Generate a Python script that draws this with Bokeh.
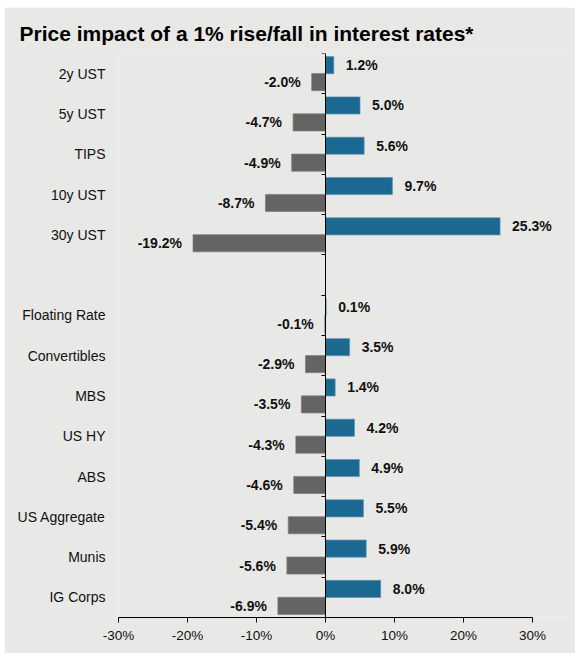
from bokeh.plotting import figure
from bokeh.models import (ColumnDataSource, LabelSet, LinearAxis, FixedTicker,
                          PrintfTickFormatter, Range1d)
from bokeh.core.properties import value
from bokeh.embed import file_html
from bokeh.resources import INLINE

# price change (%) for a 1% fall / rise in rates
assets = ["2y UST", "5y UST", "TIPS", "10y UST", "30y UST",
          "Floating Rate", "Convertibles", "MBS", "US HY", "ABS",
          "US Aggregate", "Munis", "IG Corps"]
groups = ["ust"] * 5 + ["credit"] * 8
rates_fall = [1.2, 5.0, 5.6, 9.7, 25.3, 0.1, 3.5, 1.4, 4.2, 4.9, 5.5, 5.9, 8.0]
rates_rise = [-2.0, -4.7, -4.9, -8.7, -19.2, -0.1, -2.9, -3.5, -4.3, -4.6, -5.4, -5.6, -6.9]
x_ticks = [-30, -20, -10, 0, 10, 20, 30]

FONT = "Liberation Sans"
BG = "#e8e8e6"
BLUE = "#1b6891"
GREY = "#646464"

# one slot per asset, an empty slot between the two groups
slots = []
k = 0
for i, g in enumerate(groups):
    if i > 0 and g != groups[i - 1]:
        k += 1
    slots.append(k)
    k += 1
n_slots = k

src_fall = ColumnDataSource(dict(
    y=[s + 0.29 for s in slots], v=rates_fall,
    lbl=["%.1f%%" % v for v in rates_fall]))
src_rise = ColumnDataSource(dict(
    y=[s + 0.71 for s in slots], v=rates_rise,
    lbl=["%.1f%%" % v for v in rates_rise]))

# 6.9 px per 1%; frame runs a bit past 30% so that labels are not cut
p = figure(frame_width=452, frame_height=564,
           x_range=Range1d(-30, 452 / 6.9 - 30),
           y_range=Range1d(n_slots, 0),
           title="Price impact of a 1% rise/fall in interest rates*",
           output_backend="svg", toolbar_location=None,
           min_border_left=114, min_border_right=5,
           min_border_top=46, min_border_bottom=36,
           background_fill_color=BG, border_fill_color=BG,
           outline_line_color=None)
p.margin = (7, 10, 8, 4)
p.yaxis.visible = False
p.grid.visible = False

p.title.text_font = FONT
p.title.text_font_size = "21px"
p.title.text_font_style = "bold"
p.title.text_color = "#000000"
p.title.align = "left"
p.title.offset = -99
p.title.standoff = 17

p.hbar(y="y", left=0, right="v", height=0.425, source=src_fall,
       fill_color=BLUE, line_color="#5f93b4", line_width=0.7)
p.hbar(y="y", left=0, right="v", height=0.425, source=src_rise,
       fill_color=GREY, line_color="#7c7c7c", line_width=0.7)

for src, off, align in [(src_fall, 12, "left"), (src_rise, -11, "right")]:
    p.add_layout(LabelSet(x="v", y="y", text="lbl", source=src,
                          x_offset=off, text_align=align, text_baseline="middle",
                          text_font=value(FONT), text_font_size="14px",
                          text_font_style="bold", text_color="#111111"))

# x axis, line limited to -30..30
xa = p.xaxis[0]
xa.bounds = (-30, 30)
xa.ticker = FixedTicker(ticks=x_ticks)
xa.formatter = PrintfTickFormatter(format="%d%%")
xa.axis_line_color = "#000000"
xa.major_tick_line_color = "#000000"
xa.major_tick_out = 5
xa.major_tick_in = 0
xa.minor_tick_line_color = None
xa.major_label_standoff = 5
xa.major_label_text_font = FONT
xa.major_label_text_font_size = "13.5px"
xa.major_label_text_color = "#111111"

# category names on the left
cat_axis = LinearAxis(ticker=FixedTicker(ticks=[s + 0.5 for s in slots]),
                      major_label_overrides={s + 0.5: a for s, a in zip(slots, assets)},
                      axis_line_color=None, major_tick_line_color=None,
                      minor_tick_line_color=None, major_tick_out=0, major_tick_in=0,
                      major_label_standoff=13, major_label_text_font=FONT,
                      major_label_text_font_size="14px",
                      major_label_text_color="#111111")
p.add_layout(cat_axis, "left")

# zero line with slot ticks
slot_edges = list(range(n_slots + 1))
zero_axis = LinearAxis(fixed_location=0,
                       ticker=FixedTicker(ticks=slot_edges),
                       major_label_overrides={t: "" for t in slot_edges},
                       axis_line_color="#000000", major_tick_line_color="#000000",
                       minor_tick_line_color=None, major_tick_in=4, major_tick_out=0)
p.add_layout(zero_axis, "right")

open("out.html", "w").write(file_html(p, INLINE))
